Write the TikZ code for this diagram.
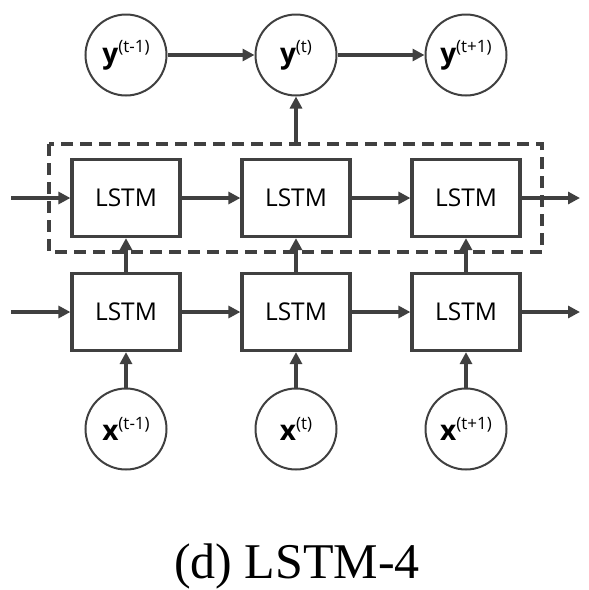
\documentclass[tikz,border=0pt]{standalone}
\usepackage{fontspec}
\setmainfont{Liberation Serif}
\newfontfamily\lab{Open Sans}
\usetikzlibrary{arrows.meta}
\definecolor{lc}{HTML}{404040}
\tikzset{
  conn/.style={draw=lc, line width=3.2pt, -{Triangle[length=12pt,width=12pt]}},
  lstm/.style={draw=lc, line width=3.2pt, minimum width=108pt, minimum height=77pt, inner sep=0pt, font=\lab\fontsize{24.5}{24.5}\selectfont},
  var/.style={draw=lc, line width=2pt, circle, minimum size=81pt, inner sep=0pt},
  dbox/.style={draw=lc, line width=3.2pt, dash pattern=on 12pt off 7pt}
}
\newcommand{\vlab}[2]{{\lab\fontsize{28}{28}\selectfont\bfseries #1\raisebox{11pt}{\mdseries\fontsize{17}{17}\selectfont #2}}}
\begin{document}
\begin{tikzpicture}[x=1pt,y=-1pt]
\useasboundingbox (0,0) rectangle (589,590);
% dashed box
\draw[dbox] (49,144) rectangle (542,252);
% output circles
\node[var] (y1) at (126,55) {\vlab{y}{(t-1)}};
\node[var] (y2) at (296,55) {\vlab{y}{(t)}};
\node[var] (y3) at (466,55) {\vlab{y}{(t+1)}};
% top LSTM row
\node[lstm] (a1) at (126,198) {LSTM};
\node[lstm] (a2) at (296,198) {LSTM};
\node[lstm] (a3) at (466,198) {LSTM};
% bottom LSTM row
\node[lstm] (b1) at (126,312) {LSTM};
\node[lstm] (b2) at (296,312) {LSTM};
\node[lstm] (b3) at (466,312) {LSTM};
% inputs
\node[var] (x1) at (126,429) {\vlab{x}{(t-1)}};
\node[var] (x2) at (296,429) {\vlab{x}{(t)}};
\node[var] (x3) at (466,429) {\vlab{x}{(t+1)}};
% free ends
\coordinate (ain) at (11,198);
\coordinate (aout) at (580,198);
\coordinate (bin) at (11,312);
\coordinate (bout) at (580,312);
\coordinate (dtop) at (296,144);
% connectors
\draw[conn] (y1) -- (y2);
\draw[conn] (y2) -- (y3);
\draw[conn] (ain) -- (a1);
\draw[conn] (a1) -- (a2);
\draw[conn] (a2) -- (a3);
\draw[conn] (a3) -- (aout);
\draw[conn] (bin) -- (b1);
\draw[conn] (b1) -- (b2);
\draw[conn] (b2) -- (b3);
\draw[conn] (b3) -- (bout);
\draw[conn] (b1) -- (a1);
\draw[conn] (b2) -- (a2);
\draw[conn] (b3) -- (a3);
\draw[conn] (x1) -- (b1);
\draw[conn] (x2) -- (b2);
\draw[conn] (x3) -- (b3);
\draw[conn] (dtop) -- (y2);
% caption
\node[font=\fontsize{50}{50}\selectfont, anchor=base] (cap) at (297,578) {(d) LSTM-4};
\end{tikzpicture}
\end{document}
